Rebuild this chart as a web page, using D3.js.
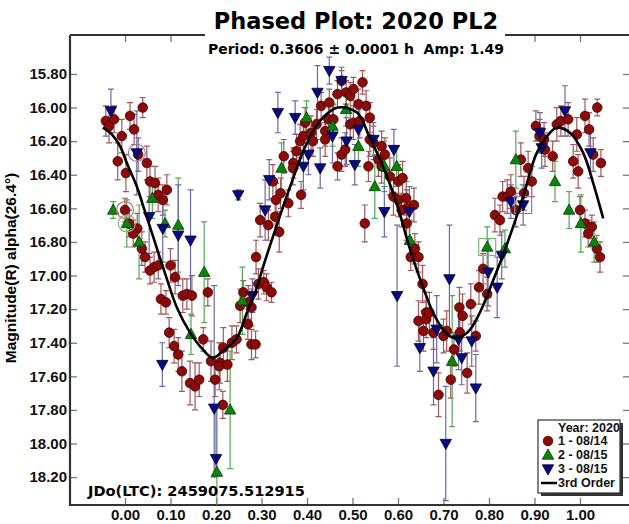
<!DOCTYPE html>
<html>
<head>
<meta charset="utf-8">
<script src="https://cdn.jsdelivr.net/npm/d3@7"></script>
<style>
  body { margin: 0; background: #fff; }
  svg { display: block; }
</style>
</head>
<body>
<svg id="chart" width="629" height="524"></svg>
<script>
// values: [phase, magnitude, error (, lower error)]
const night1 = [
  [-0.042,16.08,0.09],[-0.035,16.11,0.10],[-0.024,16.07,0.08],[-0.007,16.17,0.10],[0.011,16.05,0.08],
  [0.039,16.00,0.06],[0.020,16.13,0.09],[0.029,16.28,0.10],[-0.016,16.32,0.11],[0.002,16.39,0.11],
  [0.048,16.33,0.10],[0.055,16.44,0.09],[0.066,16.45,0.10],[0.073,16.52,0.10],[0.083,16.55,0.09],
  [0.092,16.49,0.09],[0.000,16.61,0.07],[0.009,16.69,0.08],[0.027,16.72,0.09],[0.018,16.75,0.08],
  [0.037,16.84,0.10],[0.044,16.89,0.09],[0.055,16.97,0.08],[0.064,16.95,0.09],[0.073,16.94,0.08],
  [0.100,16.94,0.10],[0.110,17.01,0.10],[0.079,17.14,0.09],[0.090,17.16,0.07],[0.127,17.12,0.10],
  [0.136,17.11,0.09],[0.147,17.12,0.12],[0.182,17.10,0.08],[0.097,17.34,0.09],[0.108,17.42,0.10],
  [0.117,17.47,0.10],[0.125,17.57,0.12],[0.143,17.64,0.13],[0.154,17.66,0.14],[0.163,17.62,0.10],
  [0.172,17.38,0.07],[0.189,17.51,0.12],[0.198,17.62,0.10],[0.209,17.52,0.12],[0.207,17.54,0.14],
  [0.225,17.53,0.10],[0.215,17.77,0.08],[0.216,17.43,0.12],[0.235,17.40,0.10],[0.245,17.38,0.08],
  [0.253,17.18,0.10],[0.260,17.10,0.07],[0.270,17.29,0.09],[0.278,17.19,0.11],[0.278,17.41,0.09],
  [0.287,17.41,0.08],[0.271,17.16,0.10],[0.293,17.05,0.09],[0.305,17.04,0.07],[0.311,17.07,0.08],
  [0.322,17.10,0.06],[0.297,16.67,0.10],[0.288,16.89,0.10],[0.315,16.70,0.09],[0.330,16.65,0.11],
  [0.339,16.74,0.12],[0.325,16.44,0.10],[0.332,16.55,0.10],[0.342,16.51,0.09],[0.359,16.57,0.08],
  [0.387,16.52,0.08],[0.349,16.29,0.10],[0.377,16.26,0.10],[0.370,16.33,0.09],[0.369,16.36,0.10],
  [0.385,16.20,0.10],[0.392,16.17,0.09],[0.396,16.09,0.09],[0.409,16.15,0.10],[0.413,16.20,0.09],
  [0.421,16.10,0.09],[0.431,15.99,0.08],[0.449,15.97,0.08],[0.440,16.14,0.09],[0.440,16.19,0.10],
  [0.447,16.07,0.09],[0.458,16.07,0.09],[0.467,15.92,0.08],[0.476,15.84,0.06],[0.486,15.91,0.07],
  [0.495,15.93,0.08],[0.502,15.89,0.07],[0.522,15.85,0.07],[0.513,15.98,0.09],[0.530,15.99,0.09],
  [0.495,16.10,0.09],[0.502,16.09,0.10],[0.516,16.08,0.10],[0.538,16.06,0.09],[0.476,16.28,0.10],
  [0.484,16.25,0.10],[0.467,16.35,0.08],[0.527,16.69,0.11],[0.538,16.19,0.10],[0.546,16.21,0.10],
  [0.564,16.23,0.09],[0.571,16.28,0.10],[0.557,16.31,0.10],[0.535,16.35,0.09],[0.564,16.35,0.10],
  [0.582,16.41,0.11],[0.601,16.44,0.10],[0.610,16.42,0.10],[0.590,16.53,0.11],[0.601,16.55,0.10],
  [0.619,16.60,0.11],[0.635,16.58,0.10],[0.619,16.69,0.10],[0.637,16.84,0.09],[0.645,16.89,0.09],
  [0.618,16.54,0.10],[0.608,16.61,0.10],[0.628,16.89,0.08],[0.654,17.05,0.11],[0.645,17.27,0.12],
  [0.662,17.22,0.12],[0.662,17.26,0.11],[0.669,17.22,0.12],[0.656,17.33,0.12],[0.700,17.36,0.10],
  [0.707,17.33,0.12],[0.723,17.44,0.10],[0.735,17.19,0.12],[0.742,17.24,0.13],[0.760,17.17,0.12],
  [0.736,17.34,0.11],[0.771,17.36,0.09],[0.778,17.07,0.10],[0.787,16.96,0.09],[0.796,17.11,0.10],
  [0.813,16.64,0.10],[0.824,16.67,0.09],[0.830,16.53,0.09],[0.840,16.53,0.10],[0.848,16.50,0.10],
  [0.859,16.61,0.10],[0.870,16.31,0.10],[0.886,16.36,0.10],[0.877,16.51,0.10],[0.894,16.44,0.09],
  [0.903,16.11,0.09],[0.911,16.17,0.10],[0.921,16.19,0.10],[0.923,16.25,0.10],[0.940,16.29,0.09],
  [0.949,16.10,0.10],[0.958,16.08,0.09],[0.985,16.32,0.10],[0.996,16.38,0.10],[0.974,16.07,0.10],
  [0.993,16.16,0.10],[1.011,16.05,0.10],[1.020,16.13,0.10],[1.038,16.00,0.05],[1.029,16.28,0.10],
  [1.046,16.33,0.08],[1.000,16.61,0.08],[1.011,16.69,0.08],[1.026,16.71,0.07],[1.018,16.75,0.08],
  [1.037,16.84,0.08],[1.044,16.89,0.09],[0.678,17.34,0.10],[0.716,17.62,0.11],[0.689,17.71,0.13],
  [0.752,17.58,0.12]
];
const night2 = [
  [-0.026,16.61,0.05],[0.004,16.69,0.14],[0.060,16.54,0.12],[0.088,16.69,0.08],[0.117,16.70,0.28],
  [0.031,16.80,0.22],[0.174,16.98,0.30],[0.145,17.35,0.12],[0.258,17.15,0.20],[0.231,17.80,0.35],
  [0.202,18.17,0.40],[0.344,16.36,0.15],[0.399,16.06,0.10],[0.456,16.11,0.12],[0.486,16.01,0.10],
  [0.513,16.23,0.12],[0.549,16.47,0.19],[0.570,16.35,0.15],[0.597,16.35,0.12],[0.626,16.79,0.12],
  [0.719,17.51,0.39],[0.796,16.83,0.12],[0.835,16.84,0.11],[0.859,16.31,0.17],[0.945,16.44,0.12],
  [0.976,16.61,0.11],[1.002,16.69,0.17],[1.031,16.80,0.12]
];
const night3 = [
  [-0.031,16.02,0.13],[0.026,16.27,0.25],[0.053,16.65,0.22],[0.083,16.72,0.20],[0.117,16.76,0.30],
  [0.144,16.79,0.30],[0.249,16.52,0.03],[0.082,17.53,0.13],[0.196,17.79,0.73,0.41],[0.200,18.09,0.30,0.10],
  [0.280,17.12,0.10],[0.423,15.91,0.16],[0.449,15.78,0.08],[0.336,16.03,0.12],[0.374,16.06,0.10],
  [0.456,16.17,0.16],[0.487,16.20,0.14],[0.513,16.13,0.12],[0.392,16.35,0.14],[0.429,16.36,0.12],
  [0.403,16.28,0.12],[0.505,16.34,0.12],[0.546,16.19,0.10],[0.317,16.43,0.12],[0.308,16.61,0.18],
  [0.591,16.25,0.12],[0.570,16.62,0.15],[0.625,16.62,0.15],[0.598,17.12,0.42],[0.476,15.84,0.08],
  [0.713,17.02,0.32],[0.798,16.98,0.20],[0.818,17.07,0.18],[0.828,16.88,0.14],[0.875,16.58,0.12],
  [0.848,16.56,0.10],[0.648,17.43,0.14],[0.685,17.32,0.20],[0.733,17.38,0.18],[0.762,17.39,0.15],
  [0.740,17.49,0.16],[0.912,16.15,0.12],[0.967,16.02,0.15],[0.916,16.24,0.12],[1.023,16.27,0.15],
  [0.678,17.57,0.20],[0.705,18.00,0.34],[0.771,17.67,0.20]
];
// 3rd order fit
const fitCurve = [
  [-0.049,16.12],[-0.029,16.16],[-0.011,16.23],[0.004,16.33],[0.026,16.47],[0.044,16.62],[0.062,16.77],
  [0.081,16.93],[0.092,17.02],[0.114,17.19],[0.143,17.34],[0.171,17.44],[0.193,17.49],[0.215,17.45],
  [0.246,17.37],[0.268,17.22],[0.290,17.07],[0.301,16.97],[0.325,16.77],[0.363,16.47],[0.400,16.21],
  [0.435,16.06],[0.468,16.00],[0.510,16.03],[0.538,16.18],[0.567,16.35],[0.598,16.58],[0.626,16.84],
  [0.655,17.07],[0.677,17.22],[0.699,17.32],[0.721,17.37],[0.752,17.34],[0.780,17.22],[0.809,17.03],
  [0.840,16.81],[0.875,16.53],[0.905,16.27],[0.934,16.15],[0.949,16.12],[0.978,16.15],[1.007,16.27],
  [1.029,16.45],[1.051,16.66]
];
// marked observations: [phase, mag, series]
const ringed = [[0.000,16.61,0],[0.004,16.69,1],[0.026,16.27,2]];
const boxed = [[0.796,16.83,1],[0.875,16.58,2]];

const xTicks = [0,0.1,0.2,0.3,0.4,0.5,0.6,0.7,0.8,0.9,1.0];
const yTicks = [15.8,16.0,16.2,16.4,16.6,16.8,17.0,17.2,17.4,17.6,17.8,18.0,18.2];
const legendLabels = ["1 - 08/14","2 - 08/15","3 - 08/15"];

const series = [
  {data: night1, shape: "circle", fill: "#8b0a0a", stroke: "#4a0000", bar: "#a3585a", ring: "#b57a7a"},
  {data: night2, shape: "up", fill: "#0a840a", stroke: "#004000", bar: "#55a855", ring: "#7ab87a"},
  {data: night3, shape: "down", fill: "#0a0a80", stroke: "#00003a", bar: "#6a6aa8", ring: "#8080b8"}
];

const svg = d3.select("#chart");
const pLeft = 70, pRight = 630, pTop = 35, pBottom = 505;

const x = d3.scaleLinear().domain([-0.1209, 1.1099]).range([pLeft, pRight]);
const y = d3.scaleLinear().domain([15.568, 18.366]).range([pTop, pBottom]);

svg.append("defs").append("clipPath").attr("id", "plotclip")
  .append("rect").attr("x", pLeft).attr("y", pTop).attr("width", pRight - pLeft).attr("height", pBottom - pTop);

// axes, ticks pointing inward
const tickFont = "'Liberation Sans', Arial, sans-serif";
const gx = svg.append("g").attr("transform", `translate(0,${pBottom})`)
  .call(d3.axisBottom(x).tickValues(xTicks).tickFormat(d3.format(".2f")).tickSize(-7).tickSizeOuter(0).tickPadding(4));
const gxt = svg.append("g").attr("transform", `translate(0,${pTop})`)
  .call(d3.axisTop(x).tickValues(xTicks).tickFormat("").tickSize(-7).tickSizeOuter(0));
const gy = svg.append("g").attr("transform", `translate(${pLeft},0)`)
  .call(d3.axisLeft(y).tickValues(yTicks).tickFormat(d3.format(".2f")).tickSize(-7).tickSizeOuter(0).tickPadding(3));
const gyr = svg.append("g").attr("transform", `translate(${pRight},0)`)
  .call(d3.axisRight(y).tickValues(yTicks).tickFormat("").tickSize(-7).tickSizeOuter(0));

[gx, gxt, gy, gyr].forEach(g => {
  g.select(".domain").remove();
  g.selectAll(".tick line").attr("stroke", "#777").attr("stroke-width", 1.3);
  g.selectAll(".tick text").attr("fill", "#111").style("font-family", tickFont)
    .style("font-weight", "bold").style("font-size", "15px");
});

// frame
svg.append("path")
  .attr("d", `M${pLeft},${pTop}V${pBottom}H${pRight}M${pLeft},${pTop}H${pRight}`)
  .attr("fill", "none").attr("stroke", "#333").attr("stroke-width", 2.2);

// blank area behind the titles
svg.append("rect").attr("x", 205).attr("y", 0).attr("width", 300).attr("height", 58).attr("fill", "#fff");

const plot = svg.append("g").attr("clip-path", "url(#plotclip)");

// error bars
series.forEach(s => {
  const g = plot.append("g").attr("stroke", s.bar).attr("stroke-width", 1.2).attr("fill", "none");
  g.selectAll("path").data(s.data).enter().append("path")
    .attr("d", d => {
      const px = x(d[0]), y1 = y(d[1] - d[2]), y2 = y(d[1] + (d.length > 3 ? d[3] : d[2]));
      return `M${px - 3},${y1}H${px + 3}M${px},${y1}V${y2}M${px - 3},${y2}H${px + 3}`;
    });
});

// markers
const tri = (px, py, up, r) => up
  ? `M${px},${py - r}L${px + r * 0.95},${py + r * 0.7}L${px - r * 0.95},${py + r * 0.7}Z`
  : `M${px},${py + r}L${px + r * 0.95},${py - r * 0.7}L${px - r * 0.95},${py - r * 0.7}Z`;

function drawMarker(g, s, px, py) {
  if (s.shape === "circle") {
    g.append("circle").attr("cx", px).attr("cy", py).attr("r", 4.8)
      .attr("fill", s.fill).attr("stroke", s.stroke).attr("stroke-width", 0.8);
  } else {
    g.append("path").attr("d", tri(px, py, s.shape === "up", 6))
      .attr("fill", s.fill).attr("stroke", s.stroke).attr("stroke-width", 0.8);
  }
}

series.forEach(s => {
  const g = plot.append("g");
  s.data.forEach(d => drawMarker(g, s, x(d[0]), y(d[1])));
});

// marked observations
ringed.forEach(d => {
  plot.append("circle").attr("cx", x(d[0])).attr("cy", y(d[1])).attr("r", 8.5)
    .attr("fill", "none").attr("stroke", series[d[2]].ring).attr("stroke-width", 1.2);
});
boxed.forEach(d => {
  plot.append("rect").attr("x", x(d[0]) - 8.5).attr("y", y(d[1]) - 8.5).attr("width", 17).attr("height", 17)
    .attr("fill", "none").attr("stroke", series[d[2]].ring).attr("stroke-width", 1.2);
});

// fit line
plot.append("path").datum(fitCurve)
  .attr("d", d3.line().x(d => x(d[0])).y(d => y(d[1])).curve(d3.curveCatmullRom))
  .attr("fill", "none").attr("stroke", "#000").attr("stroke-width", 2.6);

// titles
const wideFont = "'DejaVu Sans', Verdana, sans-serif";
svg.append("text").attr("x", 356).attr("y", 29).attr("text-anchor", "middle")
  .style("font-family", wideFont).style("font-weight", "bold").style("font-size", "22.5px")
  .text("Phased Plot: 2020 PL2");
svg.append("text").attr("x", 356).attr("y", 54).attr("text-anchor", "middle")
  .style("font-family", wideFont).style("font-weight", "bold").style("font-size", "14px")
  .style("white-space", "pre")
  .text("Period: 0.3606 \u00b1 0.0001 h  Amp: 1.49");
svg.append("text").attr("x", 88).attr("y", 496)
  .style("font-family", wideFont).style("font-weight", "bold").style("font-size", "14.6px")
  .text("JDo(LTC): 2459075.512915");
svg.append("text").attr("transform", "translate(16,268) rotate(-90)").attr("text-anchor", "middle")
  .style("font-family", tickFont).style("font-weight", "bold").style("font-size", "15.5px")
  .text("Magnitude(R) alpha(26.4\u00b0)");

// legend
const lg = svg.append("g").attr("transform", "translate(538,420)");
lg.append("rect").attr("x", 3).attr("y", 3).attr("width", 82).attr("height", 73).attr("fill", "#333");
lg.append("rect").attr("width", 82).attr("height", 73).attr("fill", "#fff").attr("stroke", "#333").attr("stroke-width", 1.2);
const lf = s => s.style("font-family", tickFont).style("font-weight", "bold").style("font-size", "12.5px").attr("fill", "#111");
lg.append("text").attr("x", 20).attr("y", 12).text("Year: 2020").call(lf);
legendLabels.forEach((t, i) => {
  const ry = 25 + i * 14;
  drawMarker(lg, series[i], 10, ry - 4);
  lg.append("text").attr("x", 20).attr("y", ry).text(t).call(lf);
});
lg.append("line").attr("x1", 3).attr("x2", 19).attr("y1", 63).attr("y2", 63)
  .attr("stroke", "#000").attr("stroke-width", 2.5);
lg.append("text").attr("x", 20).attr("y", 67).text("3rd Order").call(lf);
</script>
</body>
</html>
